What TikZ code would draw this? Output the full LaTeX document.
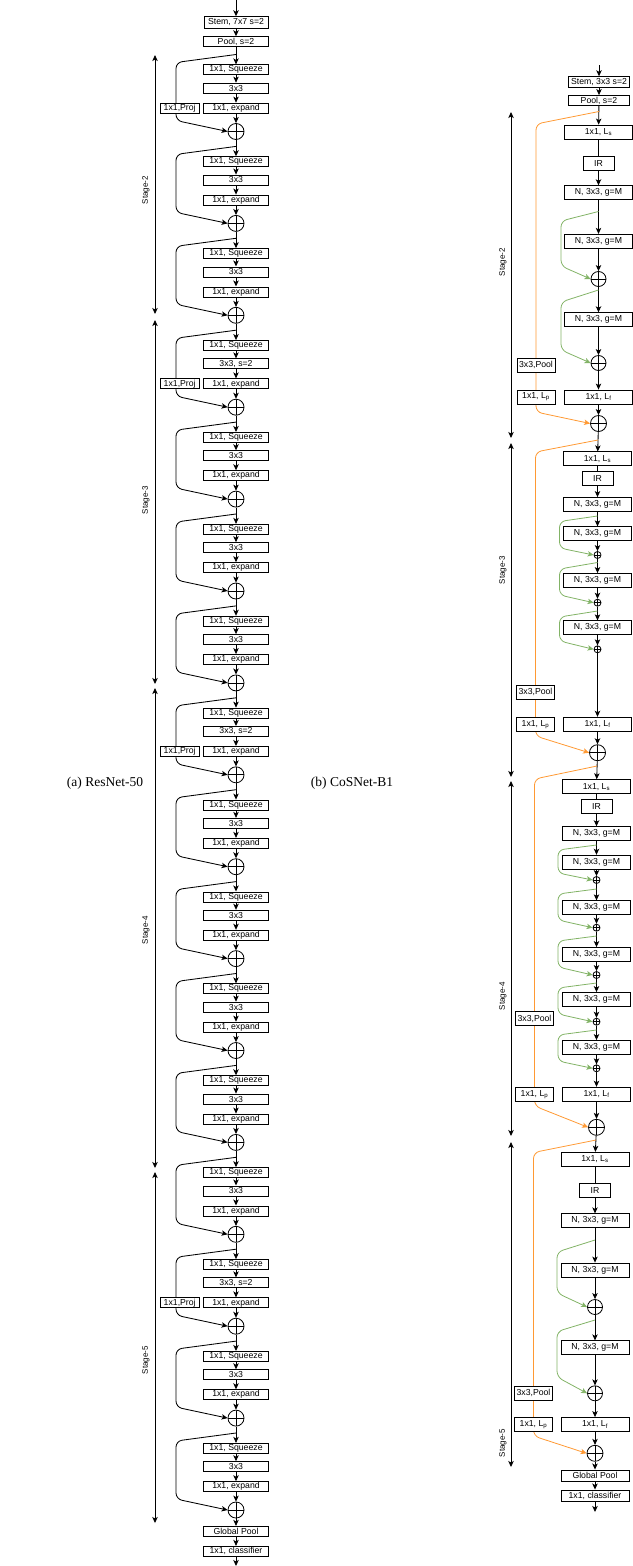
\documentclass[tikz,border=0pt]{standalone}
\usepackage{fontspec}
\setmainfont{Liberation Serif}
\setsansfont{Liberation Sans}
\usepackage{tikz}
\usetikzlibrary{arrows.meta, positioning}
\definecolor{skiporange}{RGB}{255,153,51}
\definecolor{skipgreen}{RGB}{130,179,102}

\begin{document}
\begin{tikzpicture}[
    x=1pt, y=-1pt,
    box/.style={
        rectangle,
        draw=black,
        line width=0.8pt,
        fill=white,
        inner sep=0pt,
        minimum width=65pt,
        minimum height=10pt,
        font=\sffamily\fontsize{8.7}{9}\selectfont
    },
    projbox/.style={box, minimum width=39pt},
    rbox/.style={box, minimum width=68pt, minimum height=14pt},
    irbox/.style={box, minimum width=31pt, minimum height=14pt},
    pbox/.style={box, minimum width=38pt, minimum height=14pt},
    addnode/.style={
        circle, draw=black, line width=0.8pt, fill=white,
        inner sep=0pt, minimum size=#1,
        path picture={\draw[line width=0.8pt]
            (path picture bounding box.north) -- (path picture bounding box.south)
            (path picture bounding box.west) -- (path picture bounding box.east);}
    },
    addnode/.default=16pt,
    arrow/.style={-{Stealth[length=6pt, width=5.4pt, inset=1.5pt]}, line width=0.85pt},
    plainline/.style={line width=0.85pt},
    skipline/.style={arrow, rounded corners=6pt},
    poolskip/.style={-{Stealth[length=6pt, width=5.4pt, inset=1.5pt]}, draw=skiporange, line width=0.8pt, rounded corners=6pt},
    groupskip/.style={-{Stealth[length=6pt, width=5.4pt, inset=1.5pt]}, draw=skipgreen, line width=0.8pt, rounded corners=6pt},
    stagearrow/.style={{Stealth[length=6pt, width=5.4pt, inset=1.5pt]}-{Stealth[length=6pt, width=5.4pt, inset=1.5pt]}, line width=0.85pt},
    stagelabel/.style={rotate=90, inner sep=0pt, font=\sffamily\fontsize{8}{9}\selectfont},
    caption/.style={inner sep=0pt, font=\fontsize{13.5}{15}\selectfont}
]
\useasboundingbox (0,0) rectangle (632,1566);

% (a) ResNet-50
\coordinate (inL) at (236,0);
\node[box, minimum width=64pt, minimum height=11.6pt] (stemL) at (236,22.5) {Stem, 7x7 s=2};
\node[box] (poolL) at (236,41.7) {Pool, s=2};
\draw[arrow] (inL) -- (stemL);
\draw[arrow] (stemL) -- (poolL);

\foreach \k/\mtxt/\pj in {0/3x3/1, 1/3x3/0, 2/3x3/0, 3/{3x3, s=2}/1, 4/3x3/0, 5/3x3/0,
    6/3x3/0, 7/{3x3, s=2}/1, 8/3x3/0, 9/3x3/0, 10/3x3/0, 11/3x3/0, 12/3x3/0,
    13/{3x3, s=2}/1, 14/3x3/0, 15/3x3/0} {
    \pgfmathsetmacro\Y{131.5+91.9*\k}
    \node[box] (sq\k) at (236,\Y-61.7) {1x1, Squeeze};
    \node[box] (mid\k) at (236,\Y-43.4) {\mtxt};
    \node[box] (ex\k) at (236,\Y-23.4) {1x1, expand};
    \node[addnode] (add\k) at (236,\Y) {};
    \draw[arrow] (sq\k) -- (mid\k);
    \draw[arrow] (mid\k) -- (ex\k);
    \draw[arrow] (ex\k) -- (add\k);
    \coordinate (sk\k) at (236,\Y-77);
    \draw[skipline] (sk\k) -- (176,\Y-69) -- (176,\Y-11) -- (add\k.west);
    \ifnum\pj=1
        \node[projbox] (pj\k) at (179.7,\Y-23.4) {1x1,Proj};
    \fi
}
\draw[arrow] (poolL) -- (sq0);
\foreach \k [evaluate=\k as \j using int(\k+1)] in {0,...,14} {
    \draw[arrow] (add\k) -- (sq\j);
}
\node[box] (gpL) at (236,1531.3) {Global Pool};
\node[box] (clsL) at (236,1551.3) {1x1, classifier};
\coordinate (outL) at (236,1566);
\draw[arrow] (add15) -- (gpL);
\draw[arrow] (gpL) -- (clsL);
\draw[arrow] (clsL) -- (outL);

\coordinate (s2a) at (155,55);
\coordinate (s2b) at (155,314);
\coordinate (s3a) at (155,320);
\coordinate (s3b) at (155,684);
\coordinate (s4a) at (155,688);
\coordinate (s4b) at (155,1168);
\coordinate (s5a) at (155,1172);
\coordinate (s5b) at (155,1523);
\draw[stagearrow] (s2a) -- (s2b);
\draw[stagearrow] (s3a) -- (s3b);
\draw[stagearrow] (s4a) -- (s4b);
\draw[stagearrow] (s5a) -- (s5b);
\node[stagelabel] (lab2L) at (146,190) {Stage-2};
\node[stagelabel] (lab3L) at (146,500) {Stage-3};
\node[stagelabel] (lab4L) at (146,930) {Stage-4};
\node[stagelabel] (lab5L) at (146,1360) {Stage-5};

\node[caption] (capA) at (105,783) {(a) ResNet-50};
\node[caption] (capB) at (352,783) {(b) CoSNet-B1};

% (b) CoSNet-B1, stage 2
\coordinate (inR) at (599,65);
\node[box, minimum width=61pt, minimum height=10.6pt] (stemR) at (599,82) {Stem, 3x3 s=2};
\node[box, minimum width=61pt] (poolR) at (599,100.5) {Pool, s=2};
\node[rbox] (ls2) at (598.5,132) {1x1, L\textsubscript{s}};
\node[irbox] (ir2) at (598.5,163.7) {IR};
\node[rbox] (n21) at (598.5,192.7) {N, 3x3, g=M};
\node[rbox] (n22) at (598.5,241.3) {N, 3x3, g=M};
\node[addnode=15pt] (o21) at (598.5,279) {};
\node[rbox] (n23) at (598.5,319.7) {N, 3x3, g=M};
\node[addnode=15pt] (o22) at (598.5,363) {};
\node[rbox] (lf2) at (598.5,397) {1x1, L\textsubscript{f}};
\node[addnode] (add2) at (598.5,423.5) {};
\draw[arrow] (inR) -- (stemR);
\draw[arrow] (stemR) -- (poolR);
\draw[arrow] (poolR) -- (ls2);
\draw[plainline] (ls2) -- (ir2);
\draw[arrow] (ir2) -- (n21);
\draw[arrow] (n21) -- (n22);
\draw[arrow] (n22) -- (o21);
\draw[arrow] (o21) -- (n23);
\draw[arrow] (n23) -- (o22);
\draw[arrow] (o22) -- (lf2);
\draw[arrow] (lf2) -- (add2);
\coordinate (gs21) at (598.5,211.5);
\draw[groupskip] (gs21) -- (561,221) -- (561,266) -- (o21.west);
\coordinate (gs22) at (598.5,290);
\draw[groupskip] (gs22) -- (561,302) -- (561,350) -- (o22.west);
\coordinate (os2) at (599,111.5);
\draw[poolskip] (os2) -- (536,124) -- (536,412) -- (add2.west);
\node[pbox] (pl2) at (536,365.3) {3x3,Pool};
\node[pbox] (lp2) at (536,397) {1x1, L\textsubscript{p}};

% stage 3
\node[rbox] (ls3) at (597.5,458.8) {1x1, L\textsubscript{s}};
\node[irbox] (ir3) at (597.5,478.7) {IR};
\node[rbox] (n31) at (597.5,504.5) {N, 3x3, g=M};
\node[rbox] (n32) at (597.5,533.8) {N, 3x3, g=M};
\node[addnode=7pt] (o31) at (597.5,555) {};
\node[rbox] (n33) at (597.5,580.5) {N, 3x3, g=M};
\node[addnode=7pt] (o32) at (597.5,602.7) {};
\node[rbox] (n34) at (597.5,627.8) {N, 3x3, g=M};
\node[addnode=7pt] (o33) at (597.5,649.3) {};
\node[rbox] (lf3) at (597.5,724.2) {1x1, L\textsubscript{f}};
\node[addnode] (add3) at (597.5,752.7) {};
\draw[arrow] (add2) -- (ls3);
\draw[plainline] (ls3) -- (ir3);
\draw[arrow] (ir3) -- (n31);
\draw[arrow] (n31) -- (n32);
\draw[arrow] (n32) -- (o31);
\draw[arrow] (o31) -- (n33);
\draw[arrow] (n33) -- (o32);
\draw[arrow] (o32) -- (n34);
\draw[arrow] (n34) -- (o33);
\draw[arrow] (o33) -- (lf3);
\draw[arrow] (lf3) -- (add3);
\coordinate (gs31) at (597.5,516);
\draw[groupskip] (gs31) -- (559.5,521.5) -- (559.5,548) -- (o31.west);
\coordinate (gs32) at (597.5,562.5);
\draw[groupskip] (gs32) -- (559.5,569) -- (559.5,595) -- (o32.west);
\coordinate (gs33) at (597.5,611);
\draw[groupskip] (gs33) -- (559.5,617) -- (559.5,641) -- (o33.west);
\coordinate (os3) at (598,440);
\draw[poolskip] (os3) -- (535.5,452) -- (535.5,736) -- (add3.west);
\node[pbox] (pl3) at (535.5,692.2) {3x3,Pool};
\node[pbox] (lp3) at (535.5,724.2) {1x1, L\textsubscript{p}};

% stage 4
\node[rbox] (ls4) at (596.5,786.7) {1x1, L\textsubscript{s}};
\node[irbox] (ir4) at (596.5,806.3) {IR};
\node[rbox] (n41) at (596.5,833.7) {N, 3x3, g=M};
\node[rbox] (n42) at (596.5,862.2) {N, 3x3, g=M};
\node[addnode=7pt] (o41) at (596.5,880) {};
\node[rbox] (n43) at (596.5,907.8) {N, 3x3, g=M};
\node[addnode=7pt] (o42) at (596.5,927.7) {};
\node[rbox] (n44) at (596.5,954.5) {N, 3x3, g=M};
\node[addnode=7pt] (o43) at (596.5,975) {};
\node[rbox] (n45) at (596.5,999.5) {N, 3x3, g=M};
\node[addnode=7pt] (o44) at (596.5,1021.7) {};
\node[rbox] (n46) at (596.5,1047.5) {N, 3x3, g=M};
\node[addnode=7pt] (o45) at (596.5,1068.3) {};
\node[rbox] (lf4) at (596.5,1094.2) {1x1, L\textsubscript{f}};
\node[addnode] (add4) at (596.5,1127.3) {};
\draw[arrow] (add3) -- (ls4);
\draw[plainline] (ls4) -- (ir4);
\draw[arrow] (ir4) -- (n41);
\draw[arrow] (n41) -- (n42);
\draw[arrow] (n42) -- (o41);
\draw[arrow] (o41) -- (n43);
\draw[arrow] (n43) -- (o42);
\draw[arrow] (o42) -- (n44);
\draw[arrow] (n44) -- (o43);
\draw[arrow] (o43) -- (n45);
\draw[arrow] (n45) -- (o44);
\draw[arrow] (o44) -- (n46);
\draw[arrow] (n46) -- (o45);
\draw[arrow] (o45) -- (lf4);
\draw[arrow] (lf4) -- (add4);
\coordinate (gs41) at (596.5,845);
\draw[groupskip] (gs41) -- (558,850) -- (558,873) -- (o41.west);
\coordinate (gs42) at (596.5,889);
\draw[groupskip] (gs42) -- (558,894) -- (558,920) -- (o42.west);
\coordinate (gs43) at (596.5,936);
\draw[groupskip] (gs43) -- (558,941) -- (558,967) -- (o43.west);
\coordinate (gs44) at (596.5,983);
\draw[groupskip] (gs44) -- (558,988) -- (558,1014) -- (o44.west);
\coordinate (gs45) at (596.5,1030);
\draw[groupskip] (gs45) -- (558,1035) -- (558,1061) -- (o45.west);
\coordinate (os4) at (597,766);
\draw[poolskip] (os4) -- (534.5,779) -- (534.5,1106) -- (add4.west);
\node[pbox] (pl4) at (534.5,1018.8) {3x3,Pool};
\node[pbox] (lp4) at (534.5,1094.2) {1x1, L\textsubscript{p}};

% stage 5
\node[rbox] (ls5) at (595,1159.2) {1x1, L\textsubscript{s}};
\node[irbox] (ir5) at (595,1190.3) {IR};
\node[rbox] (n51) at (595,1220.8) {N, 3x3, g=M};
\node[rbox] (n52) at (595,1270) {N, 3x3, g=M};
\node[addnode=15pt] (o51) at (595,1307) {};
\node[rbox] (n53) at (595,1347.8) {N, 3x3, g=M};
\node[addnode=15pt] (o52) at (595,1393.3) {};
\node[rbox] (lf5) at (595,1424.5) {1x1, L\textsubscript{f}};
\node[addnode] (add5) at (595,1453.3) {};
\node[rbox, minimum height=11.7pt] (gpR) at (595,1475.8) {Global Pool};
\node[rbox, minimum height=11.7pt] (clsR) at (595,1495.8) {1x1, classifier};
\coordinate (outR) at (595,1512);
\draw[arrow] (add4) -- (ls5);
\draw[plainline] (ls5) -- (ir5);
\draw[arrow] (ir5) -- (n51);
\draw[arrow] (n51) -- (n52);
\draw[arrow] (n52) -- (o51);
\draw[arrow] (o51) -- (n53);
\draw[arrow] (n53) -- (o52);
\draw[arrow] (o52) -- (lf5);
\draw[arrow] (lf5) -- (add5);
\draw[arrow] (add5) -- (gpR);
\draw[arrow] (gpR) -- (clsR);
\draw[arrow] (clsR) -- (outR);
\coordinate (gs51) at (595,1240);
\draw[groupskip] (gs51) -- (557,1252) -- (557,1293) -- (o51.west);
\coordinate (gs52) at (595,1320);
\draw[groupskip] (gs52) -- (557,1331.5) -- (557,1377) -- (o52.west);
\coordinate (os5) at (596,1140);
\draw[poolskip] (os5) -- (533.5,1152.5) -- (533.5,1436) -- (add5.west);
\node[pbox] (pl5) at (533.5,1393) {3x3,Pool};
\node[pbox] (lp5) at (533.5,1424.5) {1x1, L\textsubscript{p}};

\coordinate (r2a) at (511,112);
\coordinate (r2b) at (511,438);
\coordinate (r3a) at (511,443);
\coordinate (r3b) at (511,777);
\coordinate (r4a) at (511,781);
\coordinate (r4b) at (511,1136);
\coordinate (r5a) at (511,1142);
\coordinate (r5b) at (511,1467);
\draw[stagearrow] (r2a) -- (r2b);
\draw[stagearrow] (r3a) -- (r3b);
\draw[stagearrow] (r4a) -- (r4b);
\draw[stagearrow] (r5a) -- (r5b);
\node[stagelabel] (lab2R) at (503,262) {Stage-2};
\node[stagelabel] (lab3R) at (503,570) {Stage-3};
\node[stagelabel] (lab4R) at (503,996) {Stage-4};
\node[stagelabel] (lab5R) at (503,1443) {Stage-5};

\end{tikzpicture}
\end{document}
